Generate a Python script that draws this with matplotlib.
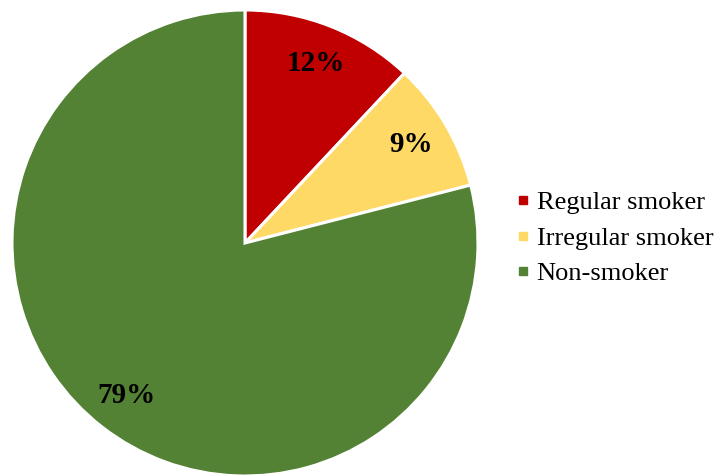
import matplotlib.pyplot as plt
from matplotlib.lines import Line2D

labels = ["Regular smoker", "Irregular smoker", "Non-smoker"]
shares = [12, 9, 79]
colors = ["#C00000", "#FFD966", "#548235"]

plt.rcParams['font.family'] = ['Liberation Serif', 'DejaVu Serif']

fig = plt.figure(figsize=(7.2, 4.76), dpi=100)
# pie box: 466 px wide, centred at (245, 243) in pixel coords
ax = fig.add_axes([12 / 720, 0.0, 466 / 720, 466 / 476])

wedges, texts, autotexts = ax.pie(
    shares, colors=colors, startangle=90, counterclock=False,
    autopct=lambda p: f"{p:.0f}%", pctdistance=0.83,
    wedgeprops=dict(edgecolor="white", linewidth=2.2),
    textprops=dict(fontsize=21, fontweight="bold", color="black"),
)
ax.set_xlim(-1, 1)
ax.set_ylim(-1, 1)
ax.set_aspect("equal")

handles = [Line2D([0], [0], marker="s", linestyle="none", markersize=6,
                  markerfacecolor=c, markeredgecolor=c) for c in colors]
fig.legend(handles, labels, loc="center left", bbox_to_anchor=(0.683, 0.5),
           frameon=False, fontsize=19, handletextpad=0.2, labelspacing=0.45,
           handlelength=0.6)

fig.savefig("out.png", dpi=100, facecolor="white")
